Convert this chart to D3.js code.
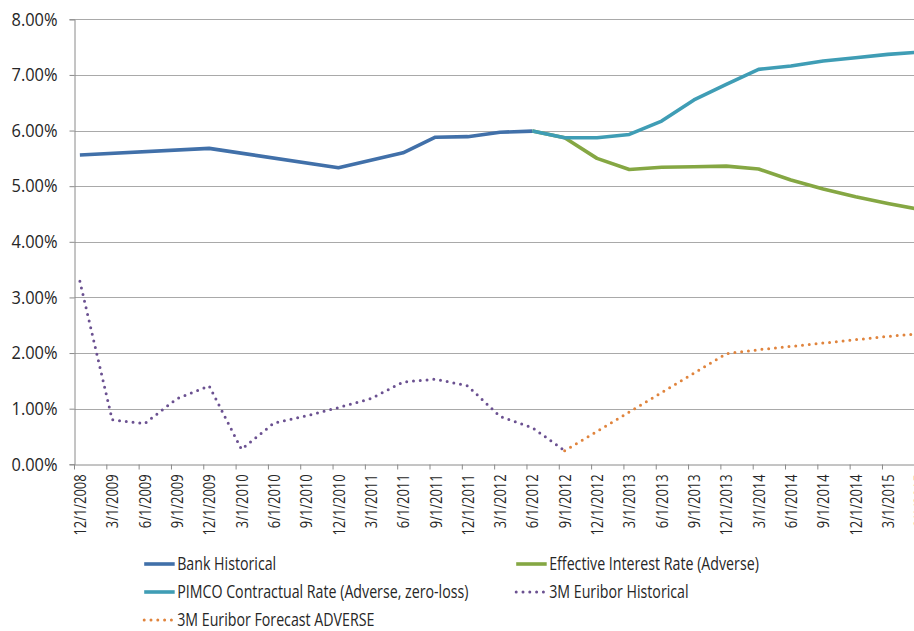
<!DOCTYPE html>
<html>
<head>
<meta charset="utf-8">
<script src="https://cdn.jsdelivr.net/npm/d3@7"></script>
<style>
  html, body { margin: 0; padding: 0; overflow: hidden; background: #fff; }
  svg { display: block; }
  text { font-family: "Open Sans", "Noto Sans", sans-serif; fill: #262626; }
</style>
</head>
<body>
<div id="chart"></div>
<script>
// Quarterly tick labels on the date axis
const tickLabels = ["12/1/2008","3/1/2009","6/1/2009","9/1/2009","12/1/2009","3/1/2010","6/1/2010","9/1/2010",
  "12/1/2010","3/1/2011","6/1/2011","9/1/2011","12/1/2011","3/1/2012","6/1/2012","9/1/2012","12/1/2012",
  "3/1/2013","6/1/2013","9/1/2013","12/1/2013","3/1/2014","6/1/2014","9/1/2014","12/1/2014","3/1/2015","6/1/2015"];
const yTicks = [0, 1, 2, 3, 4, 5, 6, 7, 8];

// Bank Historical (%)
const bankDates  = ["12/1/2008","12/1/2009","12/1/2010","6/1/2011","9/1/2011","12/1/2011","3/1/2012","6/1/2012"];
const bankValues = [5.56, 5.68, 5.33, 5.60, 5.88, 5.89, 5.97, 5.99];

// Projection dates shared by the two adverse-scenario rate series
const projDates = ["6/1/2012","9/1/2012","12/1/2012","3/1/2013","6/1/2013","9/1/2013","12/1/2013","3/1/2014",
  "6/1/2014","9/1/2014","12/1/2014","3/1/2015","6/1/2015"];
const effectiveValues = [5.99, 5.87, 5.50, 5.30, 5.34, 5.35, 5.36, 5.31, 5.11, 4.95, 4.81, 4.69, 4.58];
const pimcoValues     = [5.99, 5.87, 5.87, 5.93, 6.17, 6.55, 6.83, 7.10, 7.16, 7.25, 7.31, 7.37, 7.41];

// 3M Euribor Historical (%)
const euriborHistDates = ["12/1/2008","3/1/2009","6/1/2009","9/1/2009","12/1/2009","3/1/2010","6/1/2010","9/1/2010",
  "12/1/2010","3/1/2011","6/1/2011","9/1/2011","12/1/2011","3/1/2012","6/1/2012","9/1/2012"];
const euriborHistValues = [3.29, 0.80, 0.73, 1.18, 1.41, 0.27, 0.74, 0.87, 1.02, 1.18, 1.48, 1.53, 1.41, 0.86, 0.66, 0.245];

// 3M Euribor Forecast ADVERSE (%)
const euriborFcDates = ["9/1/2012","12/1/2012","3/1/2013","6/1/2013","9/1/2013","12/1/2013","3/1/2014","6/1/2014",
  "9/1/2014","12/1/2014","3/1/2015","6/1/2015"];
const euriborFcValues = [0.245, 0.59, 0.94, 1.29, 1.64, 1.99, 2.06, 2.12, 2.18, 2.24, 2.30, 2.35];

const seriesNames = ["Bank Historical", "Effective Interest Rate (Adverse)", "PIMCO Contractual Rate (Adverse, zero-loss)",
  "3M Euribor Historical", "3M Euribor Forecast ADVERSE"];

const W = 1000, H = 631;
const svg = d3.select("#chart").append("svg").attr("width", W).attr("height", H);

// Narrow-face emulation: squeeze glyphs horizontally so a sample string spans a given width
function condense(sel, sample, size, target) {
  const probe = svg.append("text").style("font-size", size + "px").text(sample);
  const k = target / probe.node().getComputedTextLength();
  probe.remove();
  sel.style("font-size", size + "px").each(function () {
    const w = this.getComputedTextLength();
    d3.select(this).attr("textLength", w * k).attr("lengthAdjust", "spacingAndGlyphs");
  });
}

const parse = d3.utcParse("%m/%d/%Y");
const monthKey = d3.utcFormat("%Y-%m");

// Date axis with a month base unit: every month gets an equal slot
const months = d3.utcMonth.range(parse("12/1/2008"), parse("10/1/2015")).map(monthKey);
const left = 74.5, monthW = 10.773;
const x = d3.scaleBand().domain(months).range([left, left + months.length * monthW]).padding(0);
const xc = s => x(monthKey(parse(s))) + x.bandwidth() / 2;

const y = d3.scaleLinear().domain([0, 8]).range([464.3, 19.3]);
const right = W;

// Horizontal gridlines
svg.append("g").selectAll("line").data(yTicks.filter(d => d > 0)).join("line")
  .attr("x1", left).attr("x2", right)
  .attr("y1", d => Math.round(y(d)) + 0.5).attr("y2", d => Math.round(y(d)) + 0.5)
  .attr("stroke", "#a9a9a9").attr("stroke-width", 1);

// Y axis
const yAxis = svg.append("g").attr("transform", `translate(${left},0)`)
  .call(d3.axisLeft(y).tickValues(yTicks).tickFormat(d => d.toFixed(2) + "%").tickSize(5).tickPadding(12));
yAxis.attr("font-family", null);
yAxis.select(".domain").attr("stroke", "#8a8a8a");
yAxis.selectAll(".tick line").attr("stroke", "#8a8a8a");
yAxis.selectAll(".tick text").attr("fill", "#262626");
condense(yAxis.selectAll(".tick text"), "8.00%", 18, 46);

// X axis: ticks on quarter boundaries, labels centred in the month slot
const tickKeys = tickLabels.map(s => monthKey(parse(s)));
const labelOf = new Map(tickKeys.map((k, i) => [k, tickLabels[i]]));
const xAxis = svg.append("g").attr("transform", `translate(0,${Math.round(y(0)) + 0.5})`)
  .call(d3.axisBottom(x).tickValues(tickKeys).tickFormat(k => labelOf.get(k)).tickSize(5).tickSizeOuter(0));
xAxis.attr("font-family", null);
xAxis.select(".domain").attr("stroke", "#8a8a8a");
xAxis.selectAll(".tick line").attr("stroke", "#8a8a8a")
  .attr("x1", -x.bandwidth() / 2).attr("x2", -x.bandwidth() / 2);
xAxis.selectAll(".tick text")
  .attr("transform", "rotate(-90)")
  .attr("text-anchor", "end")
  .attr("x", -10).attr("y", 0).attr("dy", "0.36em")
  .attr("fill", "#262626");
condense(xAxis.selectAll(".tick text"), "12/1/2008", 17, 61);

// Series lines
const line = d3.line().x(d => xc(d[0])).y(d => y(d[1]));

const colors = ["#4170a9", "#85a743", "#3f9db5", "#6b5191", "#e0843d"];
const solid = { "stroke-width": 3.6, "stroke-linejoin": "round", "stroke-linecap": "butt" };
const dotted = { "stroke-width": 3, "stroke-linecap": "round", "stroke-dasharray": "0 6.8" };

function drawLine(dates, values, color, style) {
  const p = svg.append("path").datum(dates.map((d, i) => [d, values[i]]))
    .attr("d", line).attr("fill", "none").attr("stroke", color);
  Object.entries(style).forEach(([k, v]) => p.attr(k, v));
}

drawLine(bankDates, bankValues, colors[0], solid);
drawLine(projDates, effectiveValues, colors[1], solid);
drawLine(projDates, pimcoValues, colors[2], solid);
drawLine(euriborHistDates, euriborHistValues, colors[3], dotted);
drawLine(euriborFcDates, euriborFcValues, colors[4], dotted);

// Legend
const legendPos = [[142.7, 564], [514.7, 564], [142.7, 592], [514.7, 592], [142.7, 620]];
const legendStyle = [solid, solid, solid, dotted, dotted];
const lg = svg.append("g").selectAll("g").data(seriesNames).join("g")
  .attr("transform", (d, i) => `translate(${legendPos[i][0]},${legendPos[i][1]})`);
lg.each(function (d, i) {
  const g = d3.select(this);
  const ln = g.append("line").attr("x1", 1.5).attr("x2", 32).attr("y1", 0).attr("y2", 0).attr("stroke", colors[i]);
  Object.entries(legendStyle[i]).forEach(([k, v]) => ln.attr(k, v));
  g.append("text").attr("x", 34.5).attr("y", 0).attr("dy", "0.35em").text(d);
});
condense(lg.selectAll("text"), "Bank Historical", 18.5, 99);
</script>
</body>
</html>
